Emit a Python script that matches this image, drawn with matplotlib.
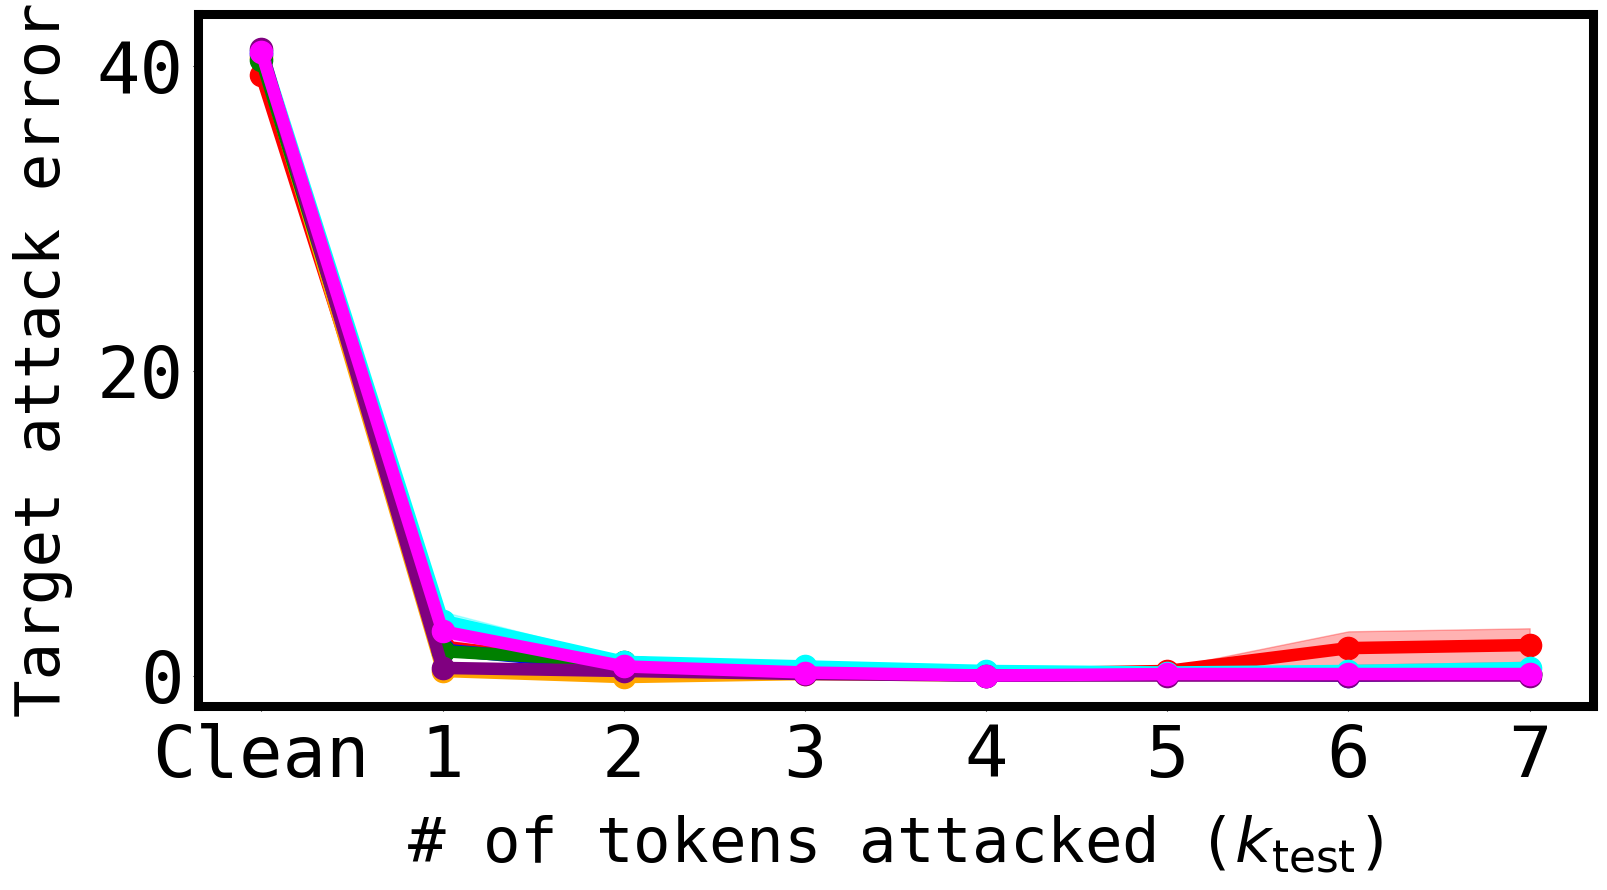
import numpy as np
import matplotlib
matplotlib.use("Agg")
import matplotlib.pyplot as plt

plt.rcParams['font.family'] = ['DejaVu Sans Mono']
plt.rcParams['mathtext.fontset'] = 'dejavusans'

# x positions: Clean, then k_test = 1..7
tick_labels = ["Clean", "1", "2", "3", "4", "5", "6", "7"]

# mean target attack error per run
red = [39.4, 1.9, 0.5, 0.2, 0.1, 0.3, 1.8, 2.0]
orange = [40.6, 0.3, -0.1, 0.1, 0.0, 0.1, 0.1, 0.1]
blue = [40.8, 1.7, 0.6, 0.2, 0.0, 0.1, 0.0, 0.1]
green = [40.4, 1.6, 0.9, 0.2, 0.1, 0.1, 0.1, 0.2]
cyan = [41.0, 3.6, 0.9, 0.6, 0.3, 0.2, 0.3, 0.5]
purple = [41.1, 0.5, 0.3, 0.1, 0.0, 0.0, 0.0, 0.0]
magenta = [40.9, 2.9, 0.6, 0.2, 0.0, 0.1, 0.1, 0.1]

# spread (std) shown as shaded bands
red_std = [0.3, 0.3, 0.2, 0.1, 0.1, 0.2, 1.1, 1.1]
orange_std = [0.2, 0.1, 0.1, 0.1, 0.0, 0.0, 0.0, 0.0]
blue_std = [0.2, 0.2, 0.1, 0.1, 0.0, 0.0, 0.0, 0.0]
green_std = [0.2, 0.2, 0.2, 0.1, 0.0, 0.0, 0.0, 0.1]
cyan_std = [0.2, 0.6, 0.2, 0.1, 0.1, 0.1, 0.1, 0.2]
purple_std = [0.2, 0.1, 0.1, 0.0, 0.0, 0.0, 0.0, 0.0]
magenta_std = [0.2, 0.6, 0.1, 0.1, 0.0, 0.0, 0.0, 0.0]

series = [
    (red, red_std, "red"),
    (orange, orange_std, "orange"),
    (blue, blue_std, "blue"),
    (green, green_std, "green"),
    (cyan, cyan_std, "cyan"),
    (purple, purple_std, "purple"),
    (magenta, magenta_std, "magenta"),
]

x = np.arange(len(tick_labels))

fig = plt.figure(figsize=(16.08, 8.9), dpi=100)
ax = fig.add_axes([0.1231, 0.2067, 0.8676, 0.7776])

for mean, std, color in series:
    mean = np.array(mean)
    std = np.array(std)
    ax.fill_between(x, mean - std, mean + std, color=color, alpha=0.3, linewidth=1)
    ax.plot(x, mean, color=color, linewidth=9, marker='o', markersize=16)

ax.set_xticks(x)
ax.set_xticklabels(tick_labels)
ax.set_yticks([0, 20, 40])
ax.set_xlim(-0.35, 7.35)
ax.set_ylim(-2.0, 43.4)
ax.tick_params(axis='x', labelsize=52, pad=8.5)
ax.tick_params(axis='y', labelsize=52, pad=7)

for s in ax.spines.values():
    s.set_linewidth(6.5)

ax.set_xlabel(r"# of tokens attacked ($k_{\mathrm{test}}$)", fontsize=45, labelpad=16)
ax.set_ylabel("Target attack error", fontsize=45, labelpad=17)

fig.savefig("out.png", dpi=100)
